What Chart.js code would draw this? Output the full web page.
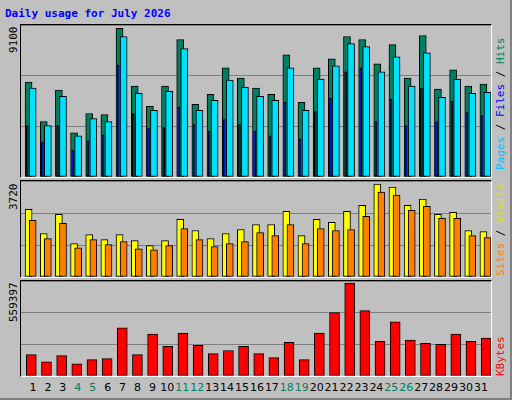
<!DOCTYPE html>
<html>
<head>
<meta charset="utf-8">
<script src="https://cdn.jsdelivr.net/npm/chart.js@4/dist/chart.umd.min.js"></script>
<style>
  body { margin: 0; background: #fff; }
  #wrap { position: relative; width: 510px; height: 398px; background: #c0c0c0;
          border-right: 2px solid #808080; border-bottom: 2px solid #808080; overflow: hidden;
          font-family: "DejaVu Sans Mono", monospace; }
  .panel { position: absolute; left: 20px; width: 470px; border-top: 1px solid #000;
           border-left: 1px solid #000; border-right: 1px solid #fff; border-bottom: 1px solid #fff; }
  .panel canvas { display: block; }
  .txt { position: absolute; font-size: 11px; white-space: nowrap; }
  .up { transform-origin: left top; transform: rotate(-90deg); }
  .day { position: absolute; top: 381px; font-size: 11px; width: 20px; text-align: center; font-family: "DejaVu Sans", sans-serif; }
</style>
</head>
<body>
<div id="wrap">
  <div class="txt" style="left:5px;top:7px;color:#0000ff;font-weight:bold;">Daily usage for July 2026</div>

  <div class="panel" style="top:24px;height:152px;"><canvas id="c1"></canvas></div>
  <div class="panel" style="top:180px;height:96px;"><canvas id="c2"></canvas></div>
  <div class="panel" style="top:280px;height:95px;"><canvas id="c3"></canvas></div>

  <div class="txt up" style="left:7px;top:53px;">9100</div>
  <div class="txt up" style="left:7px;top:210px;">3720</div>
  <div class="txt up" style="left:7px;top:322px;">559397</div>

  <div class="txt up" style="left:494px;top:170px;"><span style="color:#00c0ff">Pages</span> / <span style="color:#0000ff">Files</span> / <span style="color:#008060">Hits</span></div>
  <div class="txt up" style="left:494px;top:276px;"><span style="color:#ff8000">Sites</span> / <span style="color:#e0e000">Visits</span></div>
  <div class="txt up" style="left:494px;top:376px;color:#ff0000;">KBytes</div>
  <div id="days"></div>
</div>
<script>
const days = Array.from({ length: 31 }, (_, i) => i + 1);
const weekend = [4, 5, 11, 12, 18, 19, 25, 26];

const hits = [5682, 3316, 5197, 2649, 3802, 3741, 8898, 5440, 4226, 5440, 8230, 4348, 4954, 6532, 5925, 5318,
  4954, 7320, 4469, 6532, 7078, 8412, 8230, 6774, 7927, 5925, 8473, 5258, 6410, 5440, 5561];
const files = [5318, 3074, 4833, 2467, 3498, 3316, 8412, 5015, 3984, 5136, 7684, 3984, 4590, 5803, 5379, 4833,
  4590, 6532, 3984, 5864, 6653, 7987, 7805, 6289, 7199, 5440, 7441, 4772, 5864, 5015, 5075];
const pages = [3074, 2103, 3074, 1618, 2164, 2528, 6713, 3802, 2892, 2952, 4165, 3134, 2770, 3437, 3134, 2770,
  2467, 4469, 2285, 3923, 4711, 6289, 6532, 3316, 4651, 3074, 5318, 3316, 4529, 3862, 3680];
const visits = [2623, 1684, 2427, 1292, 1644, 1449, 1644, 1409, 1214, 1409, 2232, 1801, 1488, 1684, 1840, 2036,
  2036, 2545, 1605, 2232, 2114, 2545, 2780, 3602, 3484, 2780, 3015, 2427, 2506, 1801, 1762];
const sites = [2192, 1488, 2075, 1135, 1449, 1253, 1370, 1096, 1057, 1214, 1879, 1449, 1175, 1292, 1370, 1723,
  1605, 2036, 1292, 1879, 1801, 1840, 2349, 3289, 3171, 2584, 2741, 2271, 2271, 1605, 1527];
const kbytes = [126000, 84000, 120000, 72000, 96000, 102000, 283000, 126000, 247000, 174000, 253000, 180000,
  132000, 150000, 174000, 132000, 108000, 198000, 96000, 253000, 373000, 547000, 385000, 204000, 319000,
  211000, 192000, 186000, 247000, 204000, 223000];
const maxTop = 9100, maxMid = 3720, maxBot = 559397;

// day labels
const dayBox = document.getElementById('days');
days.forEach(d => {
  const s = document.createElement('div');
  s.className = 'day';
  s.style.left = (23 + (d - 1) * 14.93) + 'px';
  s.style.color = weekend.includes(d) ? '#008060' : '#000';
  s.textContent = d;
  dayBox.appendChild(s);
});

function ds(values, shift, color, thick, order) {
  return {
    data: values.map((v, i) => ({ x: days[i] + shift, y: v })),
    backgroundColor: color, borderColor: '#000', borderWidth: 1,
    barThickness: thick, grouped: false, order: order, borderSkipped: false
  };
}

function panel(id, datasets, max) {
  new Chart(document.getElementById(id), {
    type: 'bar',
    data: { datasets: datasets },
    options: {
      responsive: true, maintainAspectRatio: false, animation: false,
      layout: { padding: 0 },
      plugins: { legend: { display: false }, tooltip: { enabled: false } },
      scales: {
        x: { type: 'linear', min: 0.5, max: 31.5, offset: false, display: false },
        y: {
          min: 0, max: max,
          ticks: { display: false, stepSize: max / 3 },
          grid: { color: '#808080', drawTicks: false },
          border: { display: false }
        }
      }
    }
  });
}

panel('c1', [
  ds(hits, 0, '#008060', 7, 3),
  ds(files, 0.27, '#00e0ff', 7, 2),
  ds(pages, -0.09, '#0000ff', 2, 1)
], maxTop);
panel('c2', [
  ds(visits, 0, '#ffff00', 7, 2),
  ds(sites, 0.27, '#ff8000', 7, 1)
], maxMid);
panel('c3', [
  ds(kbytes, 0.18, '#ff0000', 10, 1)
], maxBot);
</script>
</body>
</html>
